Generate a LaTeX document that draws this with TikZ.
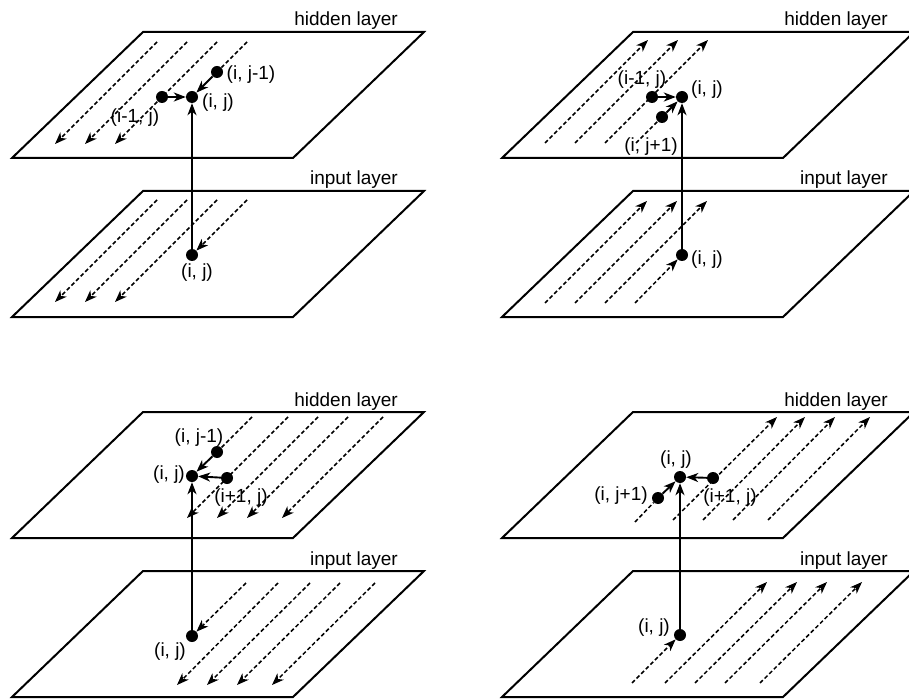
\documentclass[tikz,border=0pt]{standalone}
\usepackage{fontspec}
\setmainfont{Liberation Sans}
\usetikzlibrary{arrows.meta}

\begin{document}
\begin{tikzpicture}[x=1pt, y=-1pt, >={Stealth[length=12pt, width=9pt, inset=3.5pt]},
	line join=miter, font=\fontsize{19}{22}\selectfont,
	plane/.style={line width=2pt},
	trace/.style={line width=1.5pt, dash pattern=on 4pt off 2.5pt},
	flow/.style={trace, ->},
	link/.style={->, line width=1.9pt},
	dot/.style={circle, fill, inner sep=0pt, minimum size=12pt},
	tag/.style={inner sep=0pt},
	layer/.style={anchor=base east, inner sep=0pt}]
	
	\useasboundingbox (0,0) rectangle (909,700);
	
	%========================
	% Top left: flow towards (i, j-1) and (i-1, j)
	%========================
	\begin{scope}[shift={(0,0)}]
		% layers
		\draw[plane] (143,32) -- (424,32) -- (293,158) -- (12,158) -- cycle;
		\draw[plane] (143,191) -- (424,191) -- (293,317) -- (12,317) -- cycle;
		\node[layer] (Ahid) at (398,26) {hidden layer};
		\node[layer] (Ainp) at (398,185) {input layer};
		
		% hidden layer
		\node[dot] (Ahij) at (192,97) {};
		\node[dot] (Ahjm) at (217,72) {};
		\node[dot] (Ahim) at (162,97) {};
		\node[tag] (Ahjmt) at (251,75) {(i, j-1)};
		\node[tag] (Ahijt) at (218,103) {(i, j)};
		\node[tag] (Ahimt) at (135,118) {(i-1, j)};
		\coordinate (Ah1) at (157,42); \coordinate (Ah1e) at (55,144);
		\coordinate (Ah2) at (187,42); \coordinate (Ah2e) at (85,144);
		\coordinate (Ah3) at (217,42); \coordinate (Ah3e) at (115,144);
		\coordinate (Ah4) at (247,42);
		\draw[flow] (Ah1) -- (Ah1e);
		\draw[flow] (Ah2) -- (Ah2e);
		\draw[flow] (Ah3) -- (Ah3e);
		\draw[trace] (Ah4) -- (Ahjm);
		
		% input layer
		\node[dot] (Aiij) at (192,255) {};
		\node[tag] (Aiijt) at (197,273) {(i, j)};
		\coordinate (Ai1) at (157,200); \coordinate (Ai1e) at (55,302);
		\coordinate (Ai2) at (187,200); \coordinate (Ai2e) at (85,302);
		\coordinate (Ai3) at (217,200); \coordinate (Ai3e) at (115,302);
		\coordinate (Ai4) at (247,200);
		\draw[flow] (Ai1) -- (Ai1e);
		\draw[flow] (Ai2) -- (Ai2e);
		\draw[flow] (Ai3) -- (Ai3e);
		\draw[flow] (Ai4) -- (Aiij);
		
		% links into (i, j)
		\draw[link] (Aiij) -- (Ahij);
		\draw[link] (Ahim) -- (Ahij);
		\draw[link] (Ahjm) -- (Ahij);
	\end{scope}
	
	%========================
	% Top right: flow towards (i, j+1) and (i-1, j)
	%========================
	\begin{scope}[shift={(490,0)}]
		% layers
		\draw[plane] (143,32) -- (424,32) -- (293,158) -- (12,158) -- cycle;
		\draw[plane] (143,191) -- (424,191) -- (293,317) -- (12,317) -- cycle;
		\node[layer] (Bhid) at (398,26) {hidden layer};
		\node[layer] (Binp) at (398,185) {input layer};
		
		% hidden layer
		\node[dot] (Bhij) at (192,97) {};
		\node[dot] (Bhim) at (162,97) {};
		\node[dot] (Bhjp) at (172,117) {};
		\node[tag] (Bhimt) at (152,80) {(i-1, j)};
		\node[tag] (Bhijt) at (217,90) {(i, j)};
		\node[tag] (Bhjpt) at (161,147) {(i, j+1)};
		\coordinate (Bh1) at (55,143); \coordinate (Bh1e) at (158,40);
		\coordinate (Bh2) at (85,143); \coordinate (Bh2e) at (188,40);
		\coordinate (Bh3) at (115,143); \coordinate (Bh3e) at (218,40);
		\coordinate (Bh4) at (146,143);
		\draw[flow] (Bh1) -- (Bh1e);
		\draw[flow] (Bh2) -- (Bh2e);
		\draw[flow] (Bh3) -- (Bh3e);
		\draw[trace] (Bh4) -- (Bhjp);
		
		% input layer
		\node[dot] (Biij) at (192,255) {};
		\node[tag] (Biijt) at (217,260) {(i, j)};
		\coordinate (Bi1) at (55,303); \coordinate (Bi1e) at (157,201);
		\coordinate (Bi2) at (85,303); \coordinate (Bi2e) at (187,201);
		\coordinate (Bi3) at (115,303); \coordinate (Bi3e) at (217,201);
		\coordinate (Bi4) at (145,303);
		\draw[flow] (Bi1) -- (Bi1e);
		\draw[flow] (Bi2) -- (Bi2e);
		\draw[flow] (Bi3) -- (Bi3e);
		\draw[flow] (Bi4) -- (Biij);
		
		% links into (i, j)
		\draw[link] (Biij) -- (Bhij);
		\draw[link] (Bhim) -- (Bhij);
		\draw[link] (Bhjp) -- (Bhij);
	\end{scope}
	
	%========================
	% Bottom left: flow towards (i, j-1) and (i+1, j)
	%========================
	\begin{scope}[shift={(0,380)}]
		% layers
		\draw[plane] (143,32) -- (424,32) -- (293,158) -- (12,158) -- cycle;
		\draw[plane] (143,191) -- (424,191) -- (293,317) -- (12,317) -- cycle;
		\node[layer] (Chid) at (398,26) {hidden layer};
		\node[layer] (Cinp) at (398,185) {input layer};
		
		% hidden layer
		\node[dot] (Chij) at (192,96) {};
		\node[dot] (Chjm) at (217,72) {};
		\node[dot] (Chip) at (227,98) {};
		\node[tag] (Chjmt) at (199,58) {(i, j-1)};
		\node[tag] (Chijt) at (169,95) {(i, j)};
		\node[tag] (Chipt) at (241,118) {(i+1, j)};
		\coordinate (Ch1) at (252,37);
		\coordinate (Ch2) at (288,37); \coordinate (Ch2e) at (187,138);
		\coordinate (Ch3) at (318,37); \coordinate (Ch3e) at (217,138);
		\coordinate (Ch4) at (348,37); \coordinate (Ch4e) at (247,138);
		\coordinate (Ch5) at (383,37); \coordinate (Ch5e) at (282,138);
		\draw[trace] (Ch1) -- (Chjm);
		\draw[flow] (Ch2) -- (Ch2e);
		\draw[flow] (Ch3) -- (Ch3e);
		\draw[flow] (Ch4) -- (Ch4e);
		\draw[flow] (Ch5) -- (Ch5e);
		
		% input layer
		\node[dot] (Ciij) at (192,256) {};
		\node[tag] (Ciijt) at (170,272) {(i, j)};
		\coordinate (Ci1) at (246,203);
		\coordinate (Ci2) at (278,203); \coordinate (Ci2e) at (177,305);
		\coordinate (Ci3) at (310,203); \coordinate (Ci3e) at (207,305);
		\coordinate (Ci4) at (340,203); \coordinate (Ci4e) at (237,305);
		\coordinate (Ci5) at (375,203); \coordinate (Ci5e) at (272,305);
		\draw[flow] (Ci1) -- (Ciij);
		\draw[flow] (Ci2) -- (Ci2e);
		\draw[flow] (Ci3) -- (Ci3e);
		\draw[flow] (Ci4) -- (Ci4e);
		\draw[flow] (Ci5) -- (Ci5e);
		
		% links into (i, j)
		\draw[link] (Ciij) -- (Chij);
		\draw[link] (Chjm) -- (Chij);
		\draw[link] (Chip) -- (Chij);
	\end{scope}
	
	%========================
	% Bottom right: flow towards (i, j+1) and (i+1, j)
	%========================
	\begin{scope}[shift={(490,380)}]
		% layers
		\draw[plane] (143,32) -- (424,32) -- (293,158) -- (12,158) -- cycle;
		\draw[plane] (143,191) -- (424,191) -- (293,317) -- (12,317) -- cycle;
		\node[layer] (Dhid) at (398,26) {hidden layer};
		\node[layer] (Dinp) at (398,185) {input layer};
		
		% hidden layer
		\node[dot] (Dhij) at (190,97) {};
		\node[dot] (Dhjp) at (168,118) {};
		\node[dot] (Dhip) at (223,98) {};
		\node[tag] (Dhijt) at (186,80) {(i, j)};
		\node[tag] (Dhjpt) at (131,116) {(i, j+1)};
		\node[tag] (Dhipt) at (240,118) {(i+1, j)};
		\coordinate (Dh1) at (145,142);
		\coordinate (Dh2) at (183,140); \coordinate (Dh2e) at (287,37);
		\coordinate (Dh3) at (213,140); \coordinate (Dh3e) at (315,37);
		\coordinate (Dh4) at (243,140); \coordinate (Dh4e) at (345,37);
		\coordinate (Dh5) at (278,140); \coordinate (Dh5e) at (380,37);
		\draw[trace] (Dh1) -- (Dhjp);
		\draw[flow] (Dh2) -- (Dh2e);
		\draw[flow] (Dh3) -- (Dh3e);
		\draw[flow] (Dh4) -- (Dh4e);
		\draw[flow] (Dh5) -- (Dh5e);
		
		% input layer
		\node[dot] (Diij) at (190,255) {};
		\node[tag] (Diijt) at (164,248) {(i, j)};
		\coordinate (Di1) at (142,303);
		\coordinate (Di2) at (175,303); \coordinate (Di2e) at (277,202);
		\coordinate (Di3) at (205,303); \coordinate (Di3e) at (307,202);
		\coordinate (Di4) at (235,303); \coordinate (Di4e) at (337,202);
		\coordinate (Di5) at (270,303); \coordinate (Di5e) at (372,202);
		\draw[flow] (Di1) -- (Diij);
		\draw[flow] (Di2) -- (Di2e);
		\draw[flow] (Di3) -- (Di3e);
		\draw[flow] (Di4) -- (Di4e);
		\draw[flow] (Di5) -- (Di5e);
		
		% links into (i, j)
		\draw[link] (Diij) -- (Dhij);
		\draw[link] (Dhjp) -- (Dhij);
		\draw[link] (Dhip) -- (Dhij);
	\end{scope}
	
\end{tikzpicture}
\end{document}
